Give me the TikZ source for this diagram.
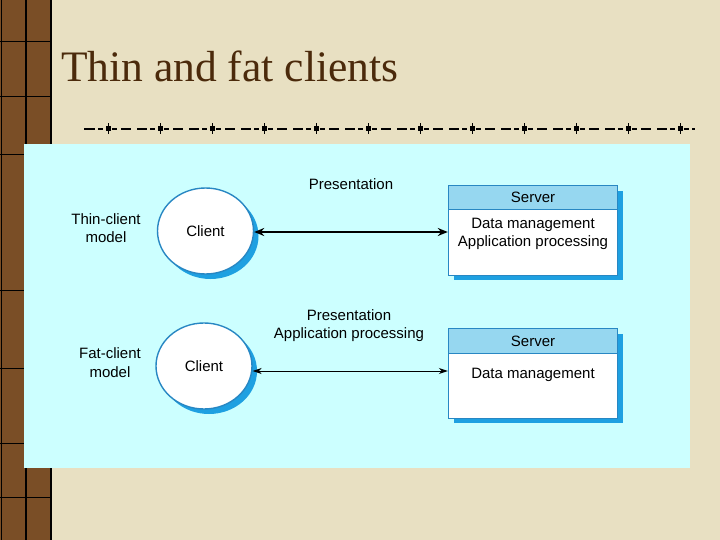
\documentclass[tikz,border=0pt]{standalone}
\usepackage{fontspec}
\setmainfont{Liberation Serif}
\newfontfamily\arialfont{Liberation Sans}
\usetikzlibrary{arrows.meta,positioning,shapes.geometric,shadows}
\definecolor{slidebg}{RGB}{232,224,194}
\definecolor{framebrown}{RGB}{122,78,38}
\definecolor{titlebrown}{RGB}{75,42,11}
\definecolor{panelcyan}{RGB}{204,255,255}
\definecolor{edgeblue}{RGB}{40,135,195}
\definecolor{shadeblue}{RGB}{30,160,225}
\definecolor{headblue}{RGB}{150,215,240}

\begin{document}
\begin{tikzpicture}[x=1pt, y=-1pt,
    every node/.style={font=\arialfont\fontsize{15}{18.5}\selectfont, inner sep=0pt},
    client/.style={ellipse, draw=edgeblue, line width=1.4pt, fill=white,
      minimum width=96pt, minimum height=86pt,
      drop shadow={shadow xshift=5pt, shadow yshift=-5pt, fill=shadeblue, opacity=1}},
    srvbox/.style={rectangle, draw=edgeblue, line width=1.4pt, fill=white,
      minimum width=169pt,
      drop shadow={shadow xshift=5pt, shadow yshift=-5pt, fill=shadeblue, opacity=1}},
    srvhead/.style={rectangle, draw=edgeblue, line width=1.4pt, fill=headblue,
      minimum width=169pt, minimum height=23.5pt, anchor=north},
    thinlink/.style={line width=2.2pt, {Stealth[length=10pt,width=8pt]}-{Stealth[length=10pt,width=8pt]}},
    fatlink/.style={line width=1pt, {Stealth[length=9pt,width=6pt]}-{Stealth[length=9pt,width=6pt]}},
    rulestroke/.style={line width=1.2pt}]
    \useasboundingbox (0,0) rectangle (720,540);

    % ── Slide background and left frame ──────────────────────────────────────
    \fill[slidebg] (0,0) rectangle (720,540);
    \fill[framebrown] (0,0) rectangle (52,540);
    \foreach \xv in {1.5,26,51} {
      \draw[line width=1.3pt] (\xv,0) -- (\xv,540);
    }
    \foreach \yv in {42,97,155,290,368,443,497} {
      \draw[line width=1pt] (0,\yv) -- (52,\yv);
    }

    % ── Title and dotted rule ────────────────────────────────────────────────
    \node[anchor=base west, font=\rmfamily\fontsize{43.5}{50}\selectfont, text=titlebrown]
      (ttl) at (61,82) {Thin and fat clients};
    \foreach \k in {0,...,11} {
      \pgfmathsetmacro\c{108+52*\k}
      \fill (\c-2.5,126.5) rectangle (\c+2.5,131.5);
      \draw[line width=0.6pt] (\c,123.5) -- (\c,134.5);
      \draw[rulestroke] (\c-10,129) -- (\c-5,129);
      \draw[rulestroke] (\c+4,129) -- (\c+9,129);
    }
    \foreach \k in {0,...,10} {
      \pgfmathsetmacro\c{108+52*\k}
      \draw[rulestroke] (\c+13,129) -- (\c+23,129);
      \draw[rulestroke] (\c+29,129) -- (\c+39,129);
    }
    \draw[rulestroke] (84,129) -- (95,129);
    \draw[rulestroke] (692,129) -- (695,129);

    % ── Diagram panel ────────────────────────────────────────────────────────
    \fill[panelcyan] (24,144) rectangle (690,468);

    % ── Thin-client model ────────────────────────────────────────────────────
    \node[align=center] (md1) at (106,228) {Thin-client\\model};
    \node[client] (cl1) at (205.5,231) {Client};
    \node[srvbox, minimum height=89.5pt] (sv1b) at (533,230.5) {};
    \node[srvhead] (sv1h) at (sv1b.north) {Server};
    \node[align=center, below=8pt of sv1h] (sv1t) {Data management\\Application processing};
    \node (pr1) at (351,184) {Presentation};
    \draw[thinlink] ([yshift=-1pt]cl1.east) -- ([yshift=-1pt]cl1.east -| sv1b.west);

    % ── Fat-client model ─────────────────────────────────────────────────────
    \node[align=center] (md2) at (110,362.5) {Fat-client\\model};
    \node[client] (cl2) at (204,366) {Client};
    \node[srvbox, minimum height=89.5pt] (sv2b) at (533,373.5) {};
    \node[srvhead, minimum height=25pt] (sv2h) at (sv2b.north) {Server};
    \node[below=14pt of sv2h] (sv2t) {Data management};
    \node[align=center] (pr2) at (349,325.5) {Presentation\\Application processing};
    \draw[fatlink] ([yshift=-5pt]cl2.east) -- ([yshift=-5pt]cl2.east -| sv2b.west);
  \end{tikzpicture}
\end{document}
